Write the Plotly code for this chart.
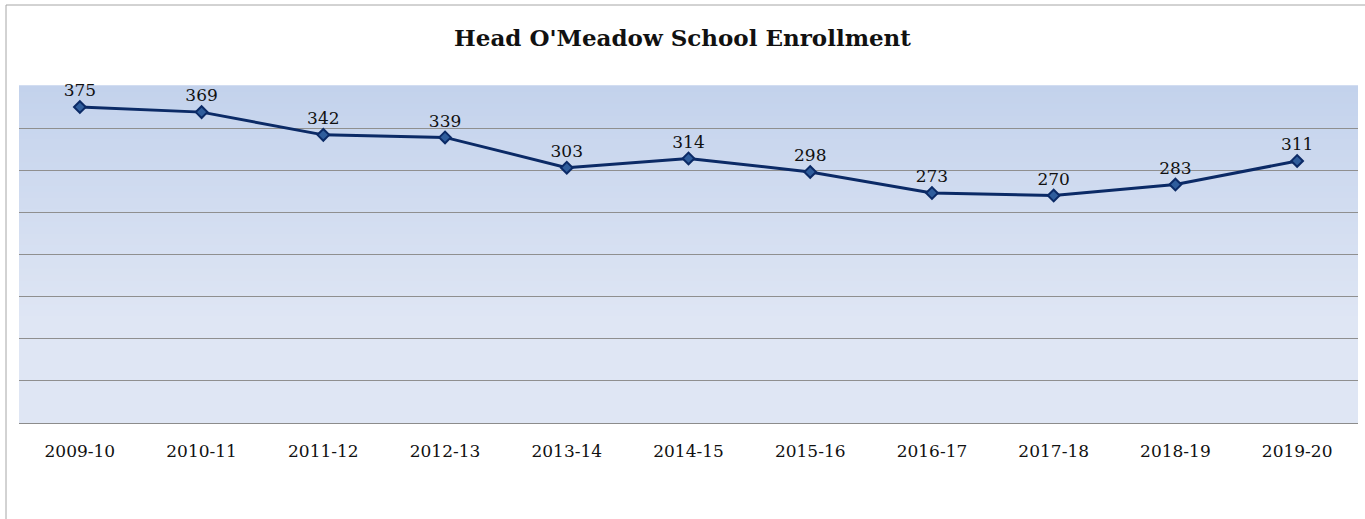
import plotly.graph_objects as go

years = ["2009-10", "2010-11", "2011-12", "2012-13", "2013-14", "2014-15",
         "2015-16", "2016-17", "2017-18", "2018-19", "2019-20"]
enrollment = [375, 369, 342, 339, 303, 314, 298, 273, 270, 283, 311]

FONT = "Georgia, 'DejaVu Serif', serif"
W, H = 1365, 519
ML, MR, MT, MB = 19, 7, 86, 96

fig = go.Figure()
fig.add_trace(go.Scatter(
    x=years, y=enrollment, mode="lines+markers+text",
    text=[str(v) for v in enrollment], textposition="top center",
    textfont=dict(family=FONT, size=17, color="#111111"),
    line=dict(color="#0b2a66", width=3),
    marker=dict(symbol="diamond", size=9, color="#2f5d9c",
                line=dict(color="#0b2a66", width=2)),
    cliponaxis=False, showlegend=False,
))

# vertical gradient background (top darker blue -> lighter)
top = (195, 210, 236)
bot = (223, 230, 244)
n = 40
shapes = []
grad_start = 0.30
for i in range(n):
    y0 = grad_start + (1 - grad_start) * i / n
    y1 = grad_start + (1 - grad_start) * (i + 1) / n
    t = (i + 0.5) / n
    c = tuple(round(bot[k] + (top[k] - bot[k]) * t) for k in range(3))
    shapes.append(dict(type="rect", xref="x domain", yref="y domain",
                       x0=0, x1=1, y0=y0, y1=y1 + 0.002, layer="below",
                       line=dict(width=0), fillcolor="rgb(%d,%d,%d)" % c))
# outer chart border (top & left visible)
pw = W - ML - MR
ph = H - MT - MB
shapes.append(dict(type="rect", xref="paper", yref="paper",
                   x0=(6 - ML) / pw, x1=(W + 10 - ML) / pw,
                   y0=-(MB + 10) / ph, y1=1 + (MT - 5) / ph,
                   line=dict(color="#a6a6a6", width=1), fillcolor="rgba(0,0,0,0)",
                   layer="below"))

fig.update_layout(
    width=W, height=H,
    margin=dict(l=ML, r=MR, t=MT, b=MB),
    paper_bgcolor="white", plot_bgcolor="rgb(223,230,244)",
    title=dict(text="<b>Head O'Meadow School Enrollment</b>",
               font=dict(family=FONT, size=23, color="#111111"),
               x=0.5, xanchor="center", y=1 - 38 / H, yanchor="middle"),
    shapes=shapes,
    xaxis=dict(type="category", range=[-0.5, len(years) - 0.5],
               showgrid=False, showline=True,
               linecolor="#8c8c8c", linewidth=1,
               ticks="outside", ticklen=13, tickcolor="rgba(0,0,0,0)",
               tickfont=dict(family=FONT, size=17, color="#111111"),
               zeroline=False),
    yaxis=dict(range=[0, 400], dtick=50, showticklabels=False,
               showgrid=True, gridcolor="#8f8f8f", gridwidth=1,
               zeroline=False, showline=False),
)

fig.write_html("out.html", config={"displayModeBar": False},
               post_script="document.body.style.margin='0';document.body.style.overflow='hidden';")
